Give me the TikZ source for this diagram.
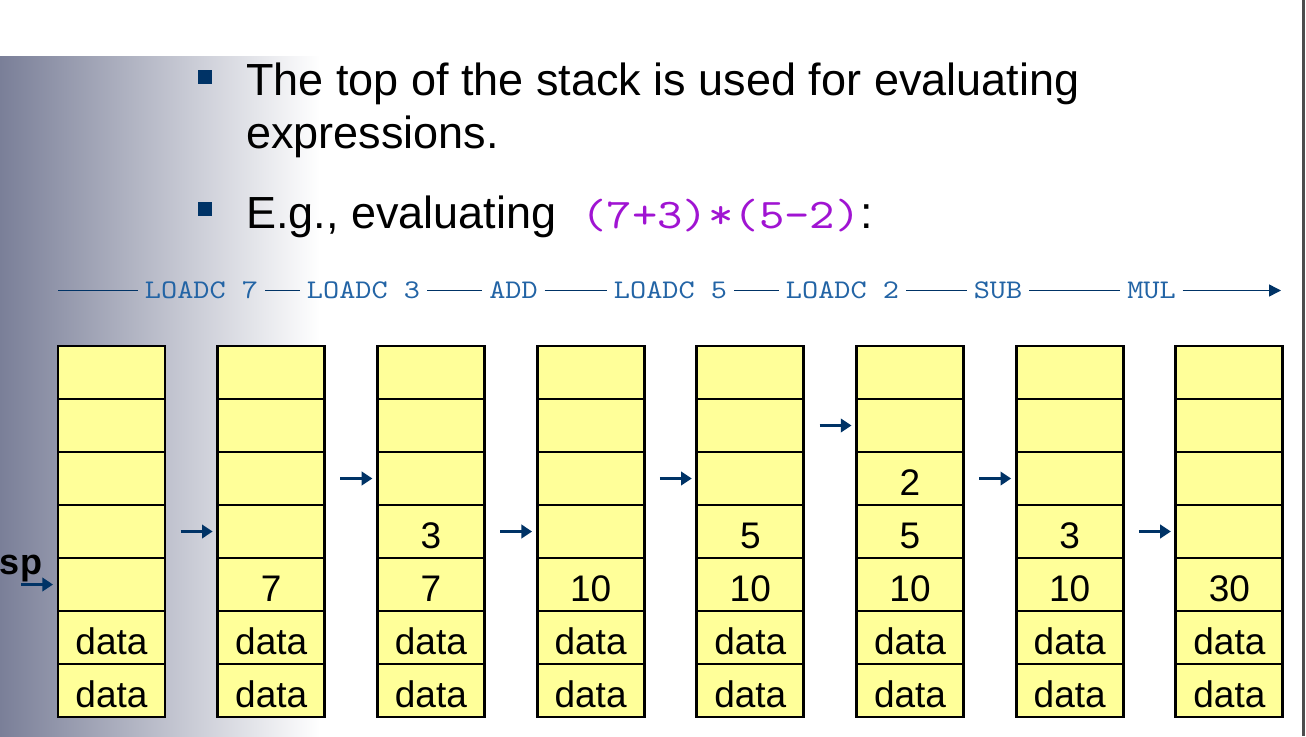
\documentclass[tikz,border=0pt]{standalone}
\usepackage{fontspec}
\setmainfont{Liberation Sans}
\setmonofont{lmmono10-regular.otf}[FakeStretch=1.143]
\usetikzlibrary{arrows.meta,positioning}

\definecolor{cellyellow}{RGB}{255,255,153}
\definecolor{navy}{RGB}{0,51,102}
\definecolor{instrblue}{RGB}{35,100,165}
\definecolor{exprpurple}{RGB}{160,20,210}
\definecolor{slategrad}{RGB}{122,127,152}
\definecolor{edgegray}{RGB}{77,77,77}

\providecommand*{\xFirst}{}
\providecommand*{\xStep}{}
\providecommand*{\yTop}{}
\providecommand*{\rowH}{}
\renewcommand*{\xFirst}{111.5}
\renewcommand*{\xStep}{159.7}
\renewcommand*{\yTop}{346}
\renewcommand*{\rowH}{53}

\begin{document}
\begin{tikzpicture}[x=0.75pt,y=-0.75pt,
  cell/.style={draw=black,line width=1.1pt,fill=cellyellow,minimum width=80.25pt,
    minimum height=39.75pt,inner sep=0pt,outer sep=0pt,text height=25pt,text depth=0pt,
    font=\fontsize{27.75}{30}\selectfont},
  outer/.style={draw=black,line width=2.2pt},
  spline/.style={black,line width=2.2pt},
  sparrow/.style={navy,line width=2.4pt,-{Triangle[length=8pt,width=10pt]},shorten >=3.75pt},
  instr/.style={instrblue,inner sep=5pt,font=\ttfamily\fontsize{20.2}{22}\selectfont},
  instrline/.style={navy,line width=1.1pt},
  bullet/.style={fill=navy,minimum size=10.5pt,inner sep=0pt},
  bigtext/.style={anchor=base west,inner sep=0pt,font=\fontsize{33.75}{40}\selectfont}]
  \useasboundingbox (0,0) rectangle (1306,736);
%background
  \shade [left color=slategrad,right color=white] (0,56) rectangle (320,736);
  \fill [edgegray] (1302,0) rectangle (1305,736);

%bullets
  \node [bullet] (b1) at (205,77) {};
  \node [bigtext] (l1) at (246,95) {The top of the stack is used for evaluating};
  \node [bigtext] (l2) at (246,148) {expressions.};
  \node [bullet] (b2) at (205,209) {};
  \node [bigtext] (l3) at (246,228)
    {E.g., evaluating\hspace{18.75pt}{\ttfamily\fontsize{31.7}{36}\selectfont\color{exprpurple}(7+3)*(5-2)}:};

%instructions
  \coordinate (istart) at (58,290.5);
  \node [instr] (i1) at (201.5,290.5) {LOADC 7};
  \node [instr] (i2) at (363.5,290.5) {LOADC 3};
  \node [instr] (i3) at (513.5,290.5) {ADD};
  \node [instr] (i4) at (670.5,290.5) {LOADC 5};
  \node [instr] (i5) at (842.5,290.5) {LOADC 2};
  \node [instr] (i6) at (998,290.5) {SUB};
  \node [instr] (i7) at (1151.5,290.5) {MUL};
  \coordinate (iend) at (1281,290.5);
  \draw [instrline] (istart) -- (i1);
  \draw [instrline] (i1) -- (i2);
  \draw [instrline] (i2) -- (i3);
  \draw [instrline] (i3) -- (i4);
  \draw [instrline] (i4) -- (i5);
  \draw [instrline] (i5) -- (i6);
  \draw [instrline] (i6) -- (i7);
  \draw [instrline,-{Triangle[length=9pt,width=9pt]}] (i7) -- (iend);

%stacks
  \foreach \stackvals [count=\i] in {{~,~,~,~,~,data,data},{~,~,~,~,7,data,data},
      {~,~,~,3,7,data,data},{~,~,~,~,10,data,data},{~,~,~,5,10,data,data},
      {~,~,2,5,10,data,data},{~,~,~,3,10,data,data},{~,~,~,~,30,data,data}}{
    \foreach \celltxt [count=\j] in \stackvals {
      \node [cell] (c\i-\j) at ({\xFirst+(\i-1)*\xStep},{\yTop+(\j-0.5)*\rowH}) {\celltxt};
    }
    \draw [outer] (c\i-1.north west) rectangle (c\i-7.south east);
  }

%sp
  \foreach \top/\free [count=\i] in {6/5,5/4,4/3,5/4,4/3,3/2,4/3,5/4}{
    \draw [spline] (c\i-\top.north west) -- (c\i-\top.north east);
    \coordinate (s\i) at ([xshift=-27.75pt]c\i-\free.west);
    \draw [sparrow] (s\i) -- (c\i-\free.west);
  }
  \node [anchor=base,inner sep=0pt,font=\bfseries\fontsize{27}{30}\selectfont] (sp) at (21,574) {sp};
\end{tikzpicture}
\end{document}
